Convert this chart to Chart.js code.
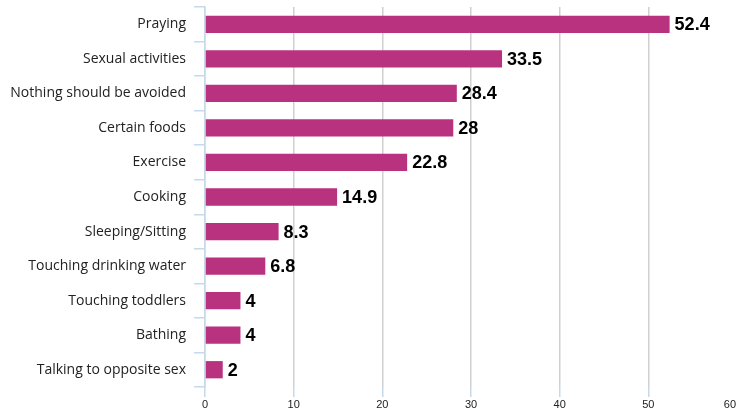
<!DOCTYPE html>
<html>
<head>
<meta charset="utf-8">
<script src="https://cdn.jsdelivr.net/npm/chart.js@4"></script>
<style>
  html, body { margin: 0; padding: 0; background: #fff; }
  #wrap { width: 737px; height: 411px; }
</style>
</head>
<body>
<div id="wrap"><canvas id="main"></canvas></div>
<script>
// Données
const categories = [
    'Praying',
    'Sexual activities',
    'Nothing should be avoided',
    'Certain foods',
    'Exercise',
    'Cooking',
    'Sleeping/Sitting',
    'Touching drinking water',
    'Touching toddlers',
    'Bathing',
    'Talking to opposite sex'
];
const percentages = [52.4, 33.5, 28.4, 28, 22.8, 14.9, 8.3, 6.8, 4, 4, 2];
const xTicks = [0, 10, 20, 30, 40, 50, 60];

const barColor = 'rgb(184, 50, 128)';
const axisBlue = '#c5d9ea';
const gridGray = '#d0d0d0';

// Étiquettes de valeur à droite des barres + libellés de l'axe X
const valueLabels = {
    id: 'valueLabels',
    afterDraw(chart) {
        const ctx = chart.ctx;
        const meta = chart.getDatasetMeta(0);
        ctx.save();
        ctx.font = 'bold 18px "Liberation Sans", Arial, sans-serif';
        ctx.fillStyle = '#000';
        ctx.textAlign = 'left';
        ctx.textBaseline = 'middle';
        meta.data.forEach((bar, i) => {
            ctx.fillText(String(percentages[i]), bar.x + 5, bar.y + 1);
        });

        // libellés X, le dernier gardé dans le canvas
        const xScale = chart.scales.x;
        ctx.font = '11px "Liberation Sans", Arial, sans-serif';
        ctx.fillStyle = '#222';
        ctx.textAlign = 'center';
        ctx.textBaseline = 'middle';
        xTicks.forEach(v => {
            const label = String(v);
            const w = ctx.measureText(label).width;
            let x = xScale.getPixelForValue(v);
            x = Math.min(x, chart.width - 1 - w / 2);
            ctx.fillText(label, x, 405);
        });
        ctx.restore();
    }
};

// la dernière ligne (60) tombe hors du cadre dans l'original
const lastTick = xTicks[xTicks.length - 1];

new Chart(document.getElementById('main').getContext('2d'), {
    type: 'bar',
    data: {
        labels: categories,
        datasets: [{
            data: percentages,
            backgroundColor: barColor,
            barPercentage: 0.5,
            categoryPercentage: 1.0
        }]
    },
    options: {
        indexAxis: 'y',
        responsive: true,
        maintainAspectRatio: false,
        animation: false,
        layout: { padding: { top: 7, right: 0, left: 0, bottom: 0 } },
        plugins: { legend: { display: false }, tooltip: { enabled: false } },
        scales: {
            x: {
                min: 0,
                max: 60,
                afterBuildTicks: scale => { scale.ticks = xTicks.map(v => ({ value: v })); },
                afterFit: scale => {
                    scale.height = 24;
                    scale.paddingLeft = 0;
                    scale.paddingRight = 0;
                },
                grid: {
                    color: c => (c.tick && c.tick.value === lastTick ? 'rgba(0,0,0,0)' : gridGray),
                    tickColor: c => (c.tick && c.tick.value === lastTick ? 'rgba(0,0,0,0)' : axisBlue),
                    tickLength: 10,
                    lineWidth: 1.5
                },
                border: { display: false },
                ticks: { display: false }
            },
            y: {
                afterFit: scale => {
                    scale.width = 205;
                    scale.paddingTop = 0;
                    scale.paddingBottom = 0;
                },
                grid: { drawOnChartArea: false, tickColor: axisBlue, tickLength: 11, offset: true, lineWidth: 1.5 },
                border: { display: true, color: axisBlue, width: 1.5 },
                ticks: {
                    padding: 8,
                    color: '#222',
                    font: { family: '"Open Sans", sans-serif', size: 14 }
                }
            }
        }
    },
    plugins: [valueLabels]
});
</script>
</body>
</html>
